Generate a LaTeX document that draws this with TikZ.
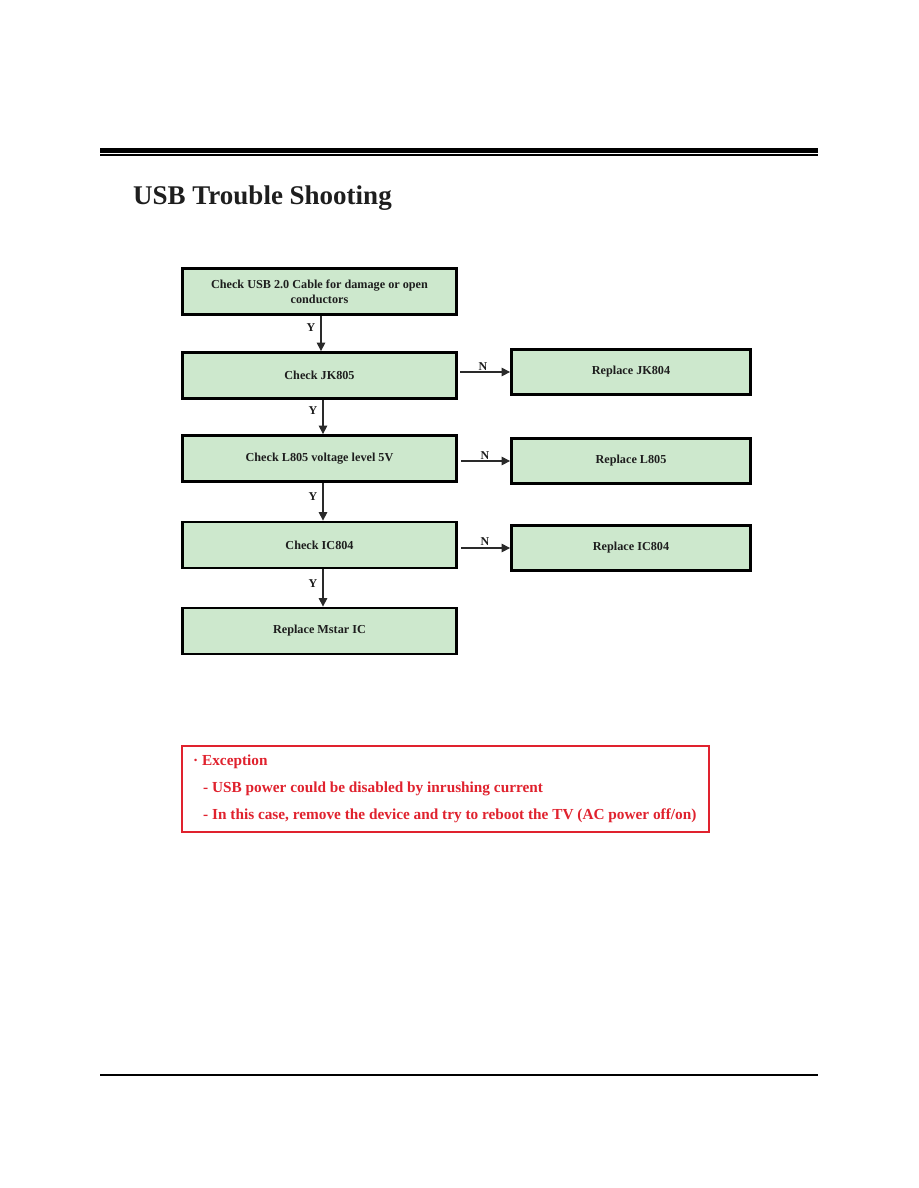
\documentclass[tikz,border=0pt]{standalone}
\usepackage{fontspec}
\setmainfont{Liberation Serif}
\usetikzlibrary{arrows.meta}
\definecolor{boxgreen}{HTML}{CDE8CD}
\definecolor{boxtext}{HTML}{1E1E1E}
\definecolor{exred}{HTML}{E0222E}
\definecolor{arrgray}{HTML}{2A2A2A}
\tikzset{
  flowbox/.style={draw=black, line width=2.8pt, fill=boxgreen, text=boxtext,
    font=\fontsize{12.2}{15}\selectfont\bfseries, align=center, inner sep=0pt,
    minimum width=274pt, minimum height=46pt},
  sidebox/.style={flowbox, minimum width=239pt, minimum height=45pt},
  arr/.style={draw=arrgray, line width=1.2pt, -{Triangle[length=8.5pt,width=8.5pt]}},
  lbl/.style={font=\fontsize{12}{13}\selectfont\bfseries, text=boxtext, inner sep=0pt},
  extext/.style={anchor=west, text=exred, font=\fontsize{15.3}{17}\selectfont\bfseries, inner sep=0pt}
}
\begin{document}
\begin{tikzpicture}[x=1pt,y=-1pt]
\useasboundingbox[fill=white] (0,0) rectangle (918,1188);
% header rules
\draw[line width=4.4pt] (100,150.3) -- (818,150.3);
\draw[line width=2.2pt] (100,154.8) -- (818,154.8);
\node[anchor=base west, inner sep=0pt, text=boxtext, font=\fontsize{27}{30}\selectfont\bfseries] (title) at (133,204) {USB Trouble Shooting};
% main column
\node[flowbox] (b1) at (319.5,291.5) {Check USB 2.0 Cable for damage or open\\conductors};
\node[flowbox] (b2) at (319.5,375.5) {Check JK805};
\node[flowbox] (b3) at (319.5,458.5) {Check L805 voltage level 5V};
\node[flowbox] (b4) at (319.5,545) {Check IC804};
\node[flowbox] (b5) at (319.5,631) {Replace Mstar IC};
% side column
\node[sidebox] (r1) at (631,372) {Replace JK804};
\node[sidebox] (r2) at (631,461) {Replace L805};
\node[sidebox] (r3) at (631,548) {Replace IC804};
% Y arrows
\draw[arr] ([xshift=1.5pt]b1.south) -- ([xshift=1.5pt]b2.north);
\draw[arr] ([xshift=3.5pt]b2.south) -- ([xshift=3.5pt]b3.north);
\draw[arr] ([xshift=3.5pt]b3.south) -- ([xshift=3.5pt]b4.north);
\draw[arr] ([xshift=3.5pt]b4.south) -- ([xshift=3.5pt]b5.north);
\node[lbl] (y1) at (311,328) {Y};
\node[lbl] (y2) at (313,411) {Y};
\node[lbl] (y3) at (313,497) {Y};
\node[lbl] (y4) at (313,584) {Y};
% N arrows
\draw[arr] ([xshift=2.5pt,yshift=3.5pt]b2.east) -- (r1.west);
\draw[arr] ([xshift=3.5pt,yshift=-2.5pt]b3.east) -- (r2.west);
\draw[arr] ([xshift=3.5pt,yshift=-3pt]b4.east) -- (r3.west);
\node[lbl] (n1) at (483,367) {N};
\node[lbl] (n2) at (485,455.5) {N};
\node[lbl] (n3) at (485,542) {N};
% exception box
\node[draw=exred, line width=2.5pt, minimum width=527pt, minimum height=86pt, inner sep=0pt] (ex) at (445.5,789) {};
\node[extext] (e1) at (193,762) {\textperiodcentered\ Exception};
\node[extext] (e2) at (203,789) {- USB power could be disabled by inrushing current};
\node[extext] (e3) at (203,816) {- In this case, remove the device and try to reboot the TV (AC power off/on)};
% footer rule
\draw[line width=2.6pt] (100,1075) -- (818,1075);
\end{tikzpicture}
\end{document}
